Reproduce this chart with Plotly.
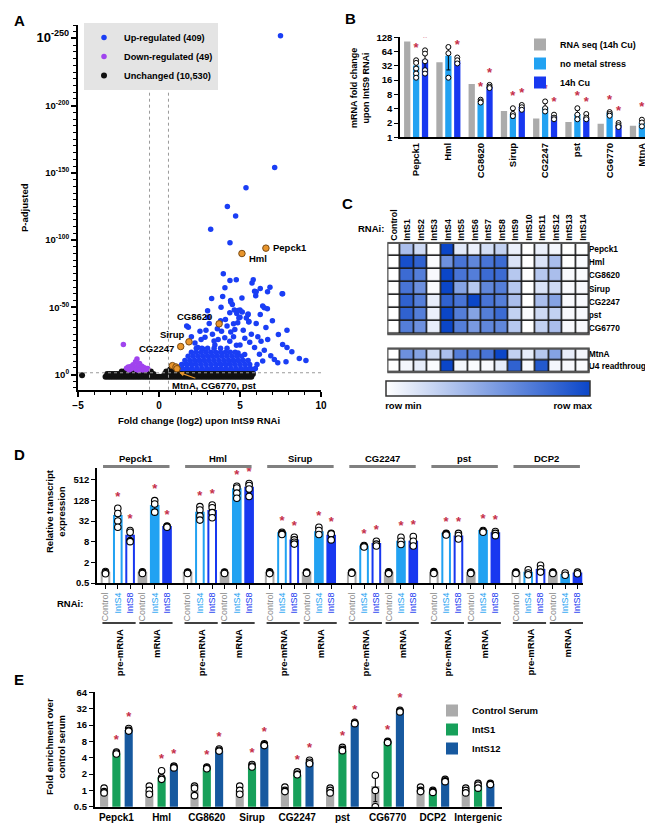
import numpy as np
import plotly.graph_objects as go

W, H = 653, 827
FONT = "Liberation Sans, Arial, Helvetica, sans-serif"
STAR = "#c5304a"

def fx(px):
    return px / W

def fy(py):
    return 1 - py / H

# ================= Panel A : volcano =================
a_up_pts = [(7.5,252),(7.14,154),(5.37,139),(4.22,125),(4.73,118),(3.19,108),(4.38,98),
 (3.97,75),(4.38,70),(4.77,70.5),(5.82,70.5),(5.74,68),(4.07,64.5),(6.25,64),(6.85,65),
 (5.9,62),(7.6,60),(5.97,58.5),(3.25,56.5),(3.93,58),(5.12,57),(4.42,55),(3.83,50),
 (6.4,51),(6.69,49),(4.65,48),(5.0,48),(3.0,47.5),(4.8,45.4),(5.5,45),(6.25,44.6),
 (3.02,42.6),(5.0,42.6),(5.39,42),(1.71,36),(4.86,38.5),(5.54,39),(4.43,54),(4.53,52),
 (4.37,45.9),(4.88,47.6),(5.14,46.5),(5.49,44.5),(5.55,39.5),(4.93,42),(4.6,37.7),
 (3.86,32.2),(4.43,31.7),(4.68,33.4),(4.06,27.3),(4.37,24.8),(3.65,26),(2.84,27.8),
 (2.53,32.2),(1.81,35.2),(2.22,23.5),(3.45,22),(4.78,21.8),(4.88,16),(5.29,14.8),
 (6.3,24.8),(6.71,26),(7.37,29.7),(7.63,22.3),(7.12,11.2),(7.33,8.7),(7.84,9.5),
 (8.66,12),(9.07,10.5),(6.0,61.6),(6.7,61.6),(7.63,60),(6.5,49.6),
 (2.0,28),(2.6,26),(3.3,30),(3.6,34),(4.2,36),(5.2,33),(5.7,30),(6.1,28),(5.9,20),
 (6.5,18),(6.2,15),(5.6,24),(3.1,38),(2.9,33),(3.8,40),(4.1,41),(6.0,38),(6.6,35),
 (7.0,40),(7.9,33),(8.2,17),(6.9,14),(6.4,10),(7.9,20),(5.3,27),(4.6,28),(3.4,25),
 (2.4,20),(2.7,19),(5.0,22)]
# dense part of the up-regulated cloud, row by row (y : x values)
a_up_mass_rows = {
    2.0: [1.3,1.6,1.9,2.2,2.5,2.8,3.1,3.4,3.7,4.0,4.3,4.6,4.9,5.2,5.5,5.8],
    4.5: [1.15,1.45,1.75,2.05,2.35,2.65,2.95,3.25,3.55,3.85,4.15,4.45,4.75,5.05,5.35,5.65,5.95],
    7.5: [1.4,1.7,2.0,2.3,2.6,2.9,3.2,3.5,3.8,4.1,4.4,4.7,5.0,5.3,5.6,6.05],
    10.5: [1.6,1.9,2.2,2.5,2.8,3.1,3.4,3.7,4.0,4.3,4.6,4.9,5.2,5.5],
    13.5: [1.8,2.1,2.4,2.7,3.0,3.3,3.6,3.9,4.2,4.5,4.8,5.1],
    16.5: [2.0,2.3,2.6,2.9,3.2,3.5,3.8,4.1,4.4,4.7],
    19.5: [2.3,2.65,3.0,3.4,3.8,4.2],
}
a_down_pts = [(-2.2,22.3),(-1.36,11.6),(-1.45,9.5),(-1.2,8.2),(-1.6,7.2),(-1.75,6.0),
 (-1.9,5.6),(-1.3,6.5),(-1.05,6.2),(-0.9,5.0),(-1.5,5.2),(-1.15,4.6),(-1.7,4.2),
 (-2.0,4.6),(-1.4,3.8),(-0.8,3.6),(-1.0,3.4),(-1.25,3.0),(-1.85,3.3),(-0.7,4.4)]
a_unch_rows = {
    -1.6: [-3.3,-3.15,-3.0,-2.85,-2.7,-2.55,-2.4,-2.25,-2.1,-1.95,-1.8,-1.65,-1.5,-1.35,-1.2,
           -1.05,-0.9,-0.75,-0.6,-0.45,-0.3,-0.15,0.0,0.15,0.3,0.45,0.6,0.75,0.9,1.05,1.2,1.35,
           1.5,1.65,1.8,1.95,2.1,2.25,2.4,2.55,2.7,2.85,3.0,3.15,3.3,3.45,3.6,3.75,3.9,4.05,
           4.2,4.35,4.5,4.65,4.8,4.95,5.1,5.25,5.4,5.55,5.7],
    0.4: [-3.2,-3.05,-2.9,-2.75,-2.6,-2.45,-2.3,-2.15,-2.0,-1.85,-1.7,-1.55,-1.4,-1.25,-1.1,
          -0.95,-0.8,-0.65,-0.5,-0.35,0.35,0.5,0.65,0.8,0.95,1.1,1.25,1.4,1.55,1.7,1.85,2.0,
          2.15,2.3,2.45,2.6,2.75,2.9,3.05,3.2,3.35,3.5,3.65,3.8,3.95,4.1,4.25,4.4,4.55,4.7,
          4.85,5.0,5.15,5.3,5.45,5.6,5.8],
    2.3: [-2.3,-2.1,-1.9,-1.7,-1.1,-0.9,-0.7,-0.5,0.45,0.6,0.75,0.9,1.05],
    4.0: [-2.0,-0.8,0.7,0.85],
    -0.5: [-4.75],
}
a_hl_names = ["Pepck1", "Hml", "CG8620", "Sirup", "CG2247", "MtnA", "CG6770", "pst"]
a_hl_x = [6.6, 5.12, 3.71, 1.85, 1.34, 0.83, 1.05, 1.11]
a_hl_y = [94, 90, 37.7, 24.3, 20.8, 6.6, 5.6, 4.3]
a_fc_cut = 0.585
a_p_cut = 1.3
a_ytick_vals = [0, 50, 100, 150, 200, 250]
a_ytick_text = ["10<sup>0</sup>", "10<sup>-50</sup>", "10<sup>-100</sup>", "10<sup>-150</sup>",
                "10<sup>-200</sup>", "<span style='font-size:13px'>10<sup>-250</sup></span>"]
a_xtick_vals = [-5, 0, 5, 10]

# ================= Panel B =================
b_genes = ["Pepck1", "Hml", "CG8620", "Sirup", "CG2247", "pst", "CG6770", "MtnA"]
b_rnaseq = [105, 38, 13.3, 3.6, 2.5, 2.1, 1.93, 1.75]
b_nometal = [32.7, 52, 5.3, 3.1, 4.3, 3.05, 3.3, 2.0]
b_cu = [43, 40, 11.6, 4.4, 2.8, 2.55, 1.8, 2.2]
b_nometal_reps = [[42,37,28,22,18],[80,59,18],[6.2,5.7,5.4],[4.1,3.1,2.8],[5.7,4.1,3.5],
                  [4.1,3.0,2.4],[3.4,3.1,2.85],[2.35,2.05,1.7]]
b_cu_reps = [[68,58,40,26,22],[48,42,36],[12.7,11.6,10.9],[4.8,4.3,3.8],[3.0,2.6,2.4],
             [3.1,2.6,2.4],[2.0,1.8,1.65],[2.9,2.35,2.2]]
b_yticks = [1, 2, 4, 8, 16, 32, 64, 128]

# ================= Panel C =================
c_cols = ["Control","IntS1","IntS2","IntS3","IntS4","IntS5","IntS6","IntS7","IntS8",
          "IntS9","IntS10","IntS11","IntS12","IntS13","IntS14"]
c_rows = ["Pepck1", "Hml", "CG8620", "Sirup", "CG2247", "pst", "CG6770"]
c_vals = [
    [0,0.35,0.2,0,1.0,0.12,0.08,0.18,0.25,0.08,0,0.08,0.05,0,0],
    [0,0.95,0.85,0.02,0.6,0.75,0.65,0.75,0.8,0.15,0,0.15,0.35,0,0.02],
    [0,0.8,0.7,0.03,1.0,0.75,0.7,0.8,0.8,0.3,0,0.3,0.35,0.03,0.02],
    [0,0.75,0.6,0.02,1.0,0.5,0.3,0.65,0.7,0.3,0,0.15,0.2,0.03,0.03],
    [0,0.85,0.7,0.1,0.85,0.75,1.0,0.75,0.7,0.35,0,0.35,0.5,0.03,0.03],
    [0,0.85,0.7,0.08,1.0,0.7,0.5,0.7,0.8,0.25,0.02,0.2,0.25,0.03,0.03],
    [0,0.7,0.6,0.1,1.0,0.7,0.55,0.65,0.65,0.3,0,0.25,0.35,0.03,0.03],
]
c_rows2 = ["MtnA", "U4 readthrough"]
c_vals2 = [
    [0,0.6,0.5,0.2,0.35,0.7,0.7,0.75,1.0,0.25,0.1,0.3,0.5,0.1,0.05],
    [0,0.05,0.1,0.02,1.0,0.05,0.02,0.03,0.1,0.85,0.03,0.9,0.05,0.03,0.02],
]

# ================= Panel D =================
d_genes = ["Pepck1", "Hml", "Sirup", "CG2247", "pst", "DCP2"]
d_cond = ["Control", "IntS4", "IntS8", "Control", "IntS4", "IntS8"]
d_ctrl_pre = [1, 1, 1, 1, 1, 1]
d_s4_pre = [45, 56, 14, 5.8, 13.5, 1.0]
d_s8_pre = [12, 63, 8.6, 6.8, 11.3, 1.2]
d_ctrl_m = [1, 1, 1, 1, 1, 1]
d_s4_m = [88, 270, 15, 8, 16.3, 0.85]
d_s8_m = [21.5, 300, 12, 8, 14, 0.95]
d_ctrl_pre_reps = [[1.08,1.0,0.93],[1.05,1.0,0.95],[1.06,1.0,0.94],[1.05,1.0,0.96],[1.07,1.0,0.95],[1.05,1.0,0.95]]
d_s4_pre_reps = [[75,53,32,21],[84,67,45,34],[15,14,13.5,13],[6.2,6,5.8,5.6],[14,13.5,13,12.5],[1.22,0.98,0.87]]
d_s8_pre_reps = [[17,15,8.6,8],[94,78,56,40],[10.8,9,7.7,6.8],[8.2,6.8,6],[14,12.1,9.6],[1.64,1.3,1.04]]
d_ctrl_m_reps = [[1.06,1.0,0.95],[1.05,1.0,0.95],[1.05,1.0,0.96],[1.06,1.0,0.94],[1.05,1.0,0.95],[1.05,1.0,0.95]]
d_s4_m_reps = [[126,100,58],[328,292,208,147],[21,17,13],[10.8,8.2,6.6],[17,16,15],[0.98,0.84]]
d_s8_m_reps = [[23,22,21],[396,345,274,166],[14,13.5,9],[11.3,8.2,6],[15.8,14,12],[1.04,0.93]]
d_star_genes = [True, True, True, True, True, False]
d_yticks = [0.5, 2, 8, 32, 128, 512]

# ================= Panel E =================
e_genes = ["Pepck1", "Hml", "CG8620", "Sirup", "CG2247", "pst", "CG6770", "DCP2", "Intergenic"]
e_ctrl = [1, 1, 1, 1, 1, 1, 1.2, 1, 1]
e_ints1 = [4.8, 1.75, 2.6, 2.7, 1.95, 5.4, 7.7, 0.95, 1.2]
e_ints12 = [13, 2.7, 5.4, 6.8, 3.3, 17.5, 29, 1.5, 1.3]
e_ctrl_reps = [[1.1,0.95,0.9],[1.2,1.0,0.85],[1.2,1.1,0.8],[1.2,1.0,0.85],[1.15,1.0,0.95],
               [1.1,1.0,0.9],[1.9,1.0,0.5],[1.15,1.0,0.95],[1.1,1.0,0.9]]
e_ints1_reps = [[5.1,4.9,4.7],[2.3,1.7,1.6],[2.7,2.6,2.5],[3.0,2.8,2.7],[2.2,2.0,1.95],
                [6.2,5.7,5.4],[8.0,7.8,7.6],[1.0,0.95,0.92],[1.35,1.25,1.1]]
e_ints12_reps = [[13.8,12.8,12.4],[2.8,2.7,2.6],[5.8,5.5,5.3],[7.2,6.9,6.7],[3.6,3.3,3.1],
                 [18,17.5,17],[30,29,28],[1.6,1.5,1.45],[1.35,1.3,1.28]]
e_star_genes = [True, True, True, True, True, True, True, False, False]
e_yticks = [0.5, 1, 2, 4, 8, 16, 32, 64]

# ---------------- colours ----------------
A_BLUE, A_PURPLE, A_BLACK, A_ORANGE = "#1a3ef5", "#a044ee", "#111111", "#e8952c"
GRAY, LBLUE, DBLUE = "#ababab", "#22a2f2", "#1838f0"
E_GREEN, E_BLUE = "#17a05a", "#17599f"

fig = go.Figure()

# ---------- A traces ----------
up_x = [p[0] for p in a_up_pts]
up_y = [p[1] for p in a_up_pts]
for yv, xs in a_up_mass_rows.items():
    up_x += xs
    up_y += [yv] * len(xs)
unch_x, unch_y = [], []
for yv, xs in a_unch_rows.items():
    unch_x += xs
    unch_y += [yv] * len(xs)

fig.add_trace(go.Scatter(x=up_x, y=up_y, mode="markers", name="Up-regulated (409)",
                         marker=dict(color=A_BLUE, size=5.5), legend="legend", legendrank=1,
                         xaxis="x", yaxis="y", hoverinfo="skip"))
fig.add_trace(go.Scatter(x=unch_x, y=unch_y, mode="markers", name="Unchanged (10,530)",
                         marker=dict(color=A_BLACK, size=6), legend="legend", legendrank=3,
                         xaxis="x", yaxis="y"))
fig.add_trace(go.Scatter(x=[p[0] for p in a_down_pts], y=[p[1] for p in a_down_pts],
                         mode="markers", name="Down-regulated (49)",
                         marker=dict(color=A_PURPLE, size=5.5), legend="legend", legendrank=2,
                         xaxis="x", yaxis="y"))
fig.add_trace(go.Scatter(x=a_hl_x, y=a_hl_y, mode="markers", showlegend=False,
                         marker=dict(color=A_ORANGE, size=6.5, line=dict(color="#7a4a12", width=1)),
                         xaxis="x", yaxis="y"))

# ---------- B traces ----------
b_off = [-0.276, 0.0, 0.276]
b_w = 0.195
b_series = [("RNA seq (14h Cu)", b_rnaseq, GRAY, None),
            ("no metal stress", b_nometal, LBLUE, b_nometal_reps),
            ("14h Cu", b_cu, DBLUE, b_cu_reps)]
for k, (nm, vals, col, reps) in enumerate(b_series):
    xs = [i + b_off[k] for i in range(len(b_genes))]
    err = None
    if reps is not None:
        err = dict(type="data", array=[float(np.std(r)) for r in reps], color="black",
                   thickness=1, width=2)
    fig.add_trace(go.Bar(x=xs, y=vals, width=b_w, marker=dict(color=col, line=dict(width=0)),
                         name=nm, legend="legend2", error_y=err, xaxis="x2", yaxis="y2"))
for k, reps_all in [(1, b_nometal_reps), (2, b_cu_reps)]:
    rx, ry, sx, sy = [], [], [], []
    for i, reps in enumerate(reps_all):
        rx += [i + b_off[k]] * len(reps)
        ry += reps
        sx.append(i + b_off[k])
        sy.append(max(reps) * 1.75)
    fig.add_trace(go.Scatter(x=rx, y=ry, mode="markers", showlegend=False,
                             marker=dict(color="white", size=5, line=dict(color="black", width=1)),
                             xaxis="x2", yaxis="y2"))
    fig.add_trace(go.Scatter(x=sx, y=sy, mode="text", text=["*"] * len(sx), showlegend=False,
                             textfont=dict(color=STAR, size=13), xaxis="x2", yaxis="y2"))

# ---------- C traces ----------
fig.add_trace(go.Heatmap(z=c_vals, x=c_cols, y=c_rows, coloraxis="coloraxis", xgap=1.6, ygap=1.6,
                         xaxis="x3", yaxis="y3", hoverinfo="skip"))
fig.add_trace(go.Heatmap(z=c_vals2, x=c_cols, y=c_rows2, coloraxis="coloraxis", xgap=1.6, ygap=1.6,
                         xaxis="x4", yaxis="y4", hoverinfo="skip"))

# ---------- D traces ----------
D_GENE_PITCH = 6.67
d_series = [(d_ctrl_pre, d_ctrl_pre_reps, GRAY, False),
            (d_s4_pre, d_s4_pre_reps, LBLUE, False),
            (d_s8_pre, d_s8_pre_reps, DBLUE, False),
            (d_ctrl_m, d_ctrl_m_reps, GRAY, True),
            (d_s4_m, d_s4_m_reps, LBLUE, True),
            (d_s8_m, d_s8_m_reps, DBLUE, True)]
d_tick_pos, d_tick_txt = [], []
d_cond_col = {"Control": "#8a8a8a", "IntS4": "#1fa3f2", "IntS8": "#1535f0"}
for j, (vals, reps_all, col, filled) in enumerate(d_series):
    xs = [g * D_GENE_PITCH + j for g in range(len(d_genes))]
    err = dict(type="data", array=[float(np.std(r)) for r in reps_all], color="black",
               thickness=1, width=2)
    fig.add_trace(go.Bar(x=xs, y=vals, width=0.62, showlegend=False, error_y=err,
                         marker=dict(color=col if filled else "white", line=dict(color=col, width=2)),
                         xaxis="x5", yaxis="y5"))
    rx, ry, sx, sy = [], [], [], []
    for g, reps in enumerate(reps_all):
        rx += [xs[g]] * len(reps)
        ry += reps
        if j % 3 != 0 and d_star_genes[g]:
            sx.append(xs[g])
            sy.append(max(reps) * 2.0)
    fig.add_trace(go.Scatter(x=rx, y=ry, mode="markers", showlegend=False,
                             marker=dict(color="white", size=6.5, line=dict(color="black", width=1.1)),
                             xaxis="x5", yaxis="y5"))
    if sx:
        fig.add_trace(go.Scatter(x=sx, y=sy, mode="text", text=["*"] * len(sx), showlegend=False,
                                 textfont=dict(color=STAR, size=13), xaxis="x5", yaxis="y5"))
for g in range(len(d_genes)):
    for j, c in enumerate(d_cond):
        d_tick_pos.append(g * D_GENE_PITCH + j)
        d_tick_txt.append(f"<span style='color:{d_cond_col[c]}'>{c}</span>")

# ---------- E traces ----------
e_off = [-0.272, 0.0, 0.272]
e_series = [("Control Serum", e_ctrl, e_ctrl_reps, GRAY),
            ("IntS1", e_ints1, e_ints1_reps, E_GREEN),
            ("IntS12", e_ints12, e_ints12_reps, E_BLUE)]
for k, (nm, vals, reps_all, col) in enumerate(e_series):
    xs = [i + e_off[k] for i in range(len(e_genes))]
    err = dict(type="data", array=[float(np.std(r)) for r in reps_all], color="black",
               thickness=1, width=2)
    fig.add_trace(go.Bar(x=xs, y=vals, width=0.18, name=nm, legend="legend3", error_y=err,
                         marker=dict(color=col, line=dict(width=0)),
                         xaxis="x6", yaxis="y6"))
    rx, ry, sx, sy = [], [], [], []
    for i, reps in enumerate(reps_all):
        rx += [xs[i]] * len(reps)
        ry += reps
        if k > 0 and e_star_genes[i]:
            sx.append(xs[i])
            sy.append(max(reps) * 1.6)
    fig.add_trace(go.Scatter(x=rx, y=ry, mode="markers", showlegend=False,
                             marker=dict(color="white", size=6.5, line=dict(color="black", width=1.1)),
                             xaxis="x6", yaxis="y6"))
    if sx:
        fig.add_trace(go.Scatter(x=sx, y=sy, mode="text", text=["*"] * len(sx), showlegend=False,
                                 textfont=dict(color=STAR, size=13), xaxis="x6", yaxis="y6"))

# ---------------- layout ----------------
def axstyle(**kw):
    base = dict(showline=True, linecolor="black", linewidth=1.6, ticks="outside", tickcolor="black",
                tickwidth=1.4, ticklen=4, showgrid=False, zeroline=False, automargin=False,
                tickfont=dict(size=9.5))
    base.update(kw)
    return base

shapes = []
# A threshold lines
for xv in (-a_fc_cut, a_fc_cut):
    shapes.append(dict(type="line", xref="x", yref="y domain", x0=xv, x1=xv, y0=0, y1=1,
                       line=dict(color="#9a9a9a", width=1, dash="dot")))
shapes.append(dict(type="line", xref="x", yref="y", x0=-5, x1=10, y0=a_p_cut, y1=a_p_cut,
                   line=dict(color="#9a9a9a", width=1, dash="dot")))
# C heatmap frames
for xr, yr, nrow in (("x3", "y3", len(c_rows)), ("x4", "y4", len(c_rows2))):
    shapes.append(dict(type="rect", xref=xr, yref=yr, x0=-0.5, x1=len(c_cols) - 0.5,
                       y0=-0.5, y1=nrow - 0.5, fillcolor="#1a1a1a", line=dict(width=0), layer="below"))
    shapes.append(dict(type="rect", xref=xr, yref=yr, x0=-0.5, x1=len(c_cols) - 0.5,
                       y0=-0.5, y1=nrow - 0.5, line=dict(color="#555555", width=2.4)))
# D gene header bars and pre-mRNA / mRNA underlines
for g in range(len(d_genes)):
    b0 = g * D_GENE_PITCH
    shapes.append(dict(type="line", xref="x5", yref="paper", x0=b0 - 0.2, x1=b0 + 5.2,
                       y0=fy(458.5), y1=fy(458.5), line=dict(color="#808080", width=3)))
    for s in (0, 3):
        shapes.append(dict(type="line", xref="x5", yref="paper", x0=b0 + s - 0.25, x1=b0 + s + 2.45,
                           y0=fy(615), y1=fy(615), line=dict(color="black", width=1.3)))

annotations = []
def ann(text, px, py, size=9.5, **kw):
    d = dict(text=text, x=fx(px), y=fy(py), xref="paper", yref="paper", showarrow=False,
             font=dict(size=size), xanchor="center", yanchor="middle")
    d.update(kw)
    annotations.append(d)

# panel letters
ann("A", 4, 12, size=15, xanchor="left")
ann("B", 335, 10, size=15, xanchor="left")
ann("C", 332, 195, size=15, xanchor="left")
ann("D", 4, 447, size=15, xanchor="left")
ann("E", 4, 671, size=15, xanchor="left")
# axis titles
ann("P-adjusted", 16, 200, textangle=-90)
ann("Fold change (log2) upon IntS9 RNAi", 191, 412)
ann("mRNA fold change<br>upon IntS9 RNAi", 352, 80, size=9, textangle=-90)
ann("Relative transcript<br>expression", 47, 503, size=9.5, textangle=-90)
ann("Fold enrichment over<br>control serum", 47, 739, size=9.5, textangle=-90)
ann("RNAi:", 363, 220)
ann("RNAi:", 62, 595)
# A highlight labels
a_lab = {"Pepck1": dict(xanchor="left", xshift=5, yshift=1),
         "Hml": dict(xanchor="left", xshift=5, yshift=-5),
         "CG8620": dict(xanchor="right", xshift=-5, yshift=7),
         "Sirup": dict(xanchor="right", xshift=-3, yshift=7),
         "CG2247": dict(xanchor="right", xshift=-5, yshift=-2)}
for nm, xv, yv in zip(a_hl_names, a_hl_x, a_hl_y):
    if nm in a_lab:
        d = dict(text=nm, x=xv, y=yv, xref="x", yref="y", showarrow=False, font=dict(size=9.5),
                 yanchor="middle")
        d.update(a_lab[nm])
        annotations.append(d)
annotations.append(dict(text="MtnA, CG6770, pst", x=1.25, y=1.5, xref="x", yref="y",
                        ax=3.45, ay=-8.0, axref="x", ayref="y", showarrow=True, arrowhead=2,
                        arrowsize=0.8, arrowwidth=1.2, arrowcolor=A_ORANGE, font=dict(size=9.5)))
# D gene headers and RNA type labels
for g, nm in enumerate(d_genes):
    b0 = g * D_GENE_PITCH
    annotations.append(dict(text=nm, x=b0 + 2.5, y=fy(450.5), xref="x5", yref="paper",
                            showarrow=False, font=dict(size=9.5), yanchor="middle"))
    for s, lab in ((0, "pre-mRNA"), (3, "mRNA")):
        annotations.append(dict(text=lab, x=b0 + s + 1.15, y=fy(619), xref="x5", yref="paper",
                                showarrow=False, font=dict(size=9.5), textangle=-90,
                                yanchor="top", xanchor="center"))

fig.update_layout(
    width=W, height=H, autosize=False, template="none",
    margin=dict(l=0, r=0, t=0, b=0),
    paper_bgcolor="white", plot_bgcolor="white",
    font=dict(family=FONT, size=9.5, color="black", weight="bold"),
    barmode="overlay",
    shapes=shapes, annotations=annotations,
    # A
    xaxis=axstyle(domain=[fx(70), fx(313)], anchor="y", range=[-5, 10], tickvals=a_xtick_vals,
                  linewidth=2, tickwidth=1.8, ticklen=5, tickfont=dict(size=10),
                  minor=dict(dtick=1, tick0=0, ticks="outside", ticklen=3, tickwidth=1.3, tickcolor="black")),
    yaxis=axstyle(domain=[fy(381.7), fy(17)], anchor="x", range=[-11.3, 260],
                  tickvals=a_ytick_vals, ticktext=a_ytick_text, linewidth=2, tickwidth=1.8, ticklen=5,
                  minor=dict(dtick=5, tick0=0, ticks="outside", ticklen=3, tickwidth=1.3, tickcolor="black")),
    # B
    xaxis2=axstyle(domain=[fx(392), fx(650)], anchor="y2", range=[-0.5, 7.5],
                   tickvals=list(range(len(b_genes))), ticktext=b_genes, ticks="", tickangle=-90),
    yaxis2=axstyle(domain=[fy(129.3), fy(29.3)], anchor="x2", type="log",
                   range=[0, float(np.log10(128))], tickvals=b_yticks, ticktext=[str(v) for v in b_yticks]),
    # C
    xaxis3=dict(domain=[fx(379.3), fx(581.7)], anchor="y3", side="top", tickangle=-90,
                showline=False, ticks="", showgrid=False, zeroline=False, automargin=False,
                range=[-0.5, len(c_cols) - 0.5], tickfont=dict(size=8.8)),
    yaxis3=dict(domain=[fy(327.5), fy(233.7)], anchor="x3", side="right", autorange="reversed",
                showline=False, ticks="", showgrid=False, zeroline=False, automargin=False,
                tickfont=dict(size=8.4), ticklabelstandoff=-2),
    xaxis4=dict(domain=[fx(379.3), fx(581.7)], anchor="y4", showticklabels=False, showline=False,
                ticks="", showgrid=False, zeroline=False, automargin=False,
                range=[-0.5, len(c_cols) - 0.5]),
    yaxis4=dict(domain=[fy(365.5), fy(339.3)], anchor="x4", side="right", autorange="reversed",
                showline=False, ticks="", showgrid=False, zeroline=False, automargin=False,
                tickfont=dict(size=8.4), ticklabelstandoff=-2),
    coloraxis=dict(colorscale=[[0, "#ffffff"], [1, "#0b46c8"]], cmin=0, cmax=1,
                   colorbar=dict(orientation="h", x=fx(480), xanchor="center", y=fy(373),
                                 yanchor="top", len=204 / W, lenmode="fraction", thickness=15,
                                 thicknessmode="pixels", outlinewidth=1.5, outlinecolor="#333333",
                                 tickvals=[0.085, 0.915], ticktext=["row min", "row max"], ticks="",
                                 tickfont=dict(size=9.5), xpad=0, ypad=0)),
    # D
    xaxis5=axstyle(domain=[fx(89), fx(575)], anchor="y5", range=[-0.69, 38.8],
                   tickvals=d_tick_pos, ticktext=d_tick_txt, tickangle=-90, ticklen=4,
                   tickfont=dict(size=9, weight="normal")),
    yaxis5=axstyle(domain=[fy(575), fy(460)], anchor="x5", type="log",
                   range=[float(np.log10(0.5)), float(np.log10(0.5) + 11.13 * np.log10(2))],
                   tickvals=d_yticks, ticktext=[str(v) for v in d_yticks]),
    # E
    xaxis6=axstyle(domain=[fx(86.7), fx(494)], anchor="y6", range=[-0.48, 8.53],
                   tickvals=list(range(len(e_genes))), ticktext=e_genes, ticks="",
                   tickfont=dict(size=10)),
    yaxis6=axstyle(domain=[fy(798.75), fy(684.4)], anchor="x6", type="log",
                   range=[float(np.log10(0.5)), float(np.log10(64))],
                   tickvals=e_yticks, ticktext=[str(v) for v in e_yticks]),
    legend=dict(x=fx(76), y=fy(15), xanchor="left", yanchor="top", bgcolor="#e4e4e4",
                borderwidth=0, font=dict(size=9.2), itemsizing="trace"),
    legend2=dict(x=fx(512), y=fy(22), xanchor="left", yanchor="top", bgcolor="rgba(0,0,0,0)",
                 borderwidth=0, font=dict(size=9)),
    legend3=dict(x=fx(424), y=fy(688), xanchor="left", yanchor="top", bgcolor="rgba(0,0,0,0)",
                 borderwidth=0, font=dict(size=9.5)),
)

fig.write_html("out.html")
